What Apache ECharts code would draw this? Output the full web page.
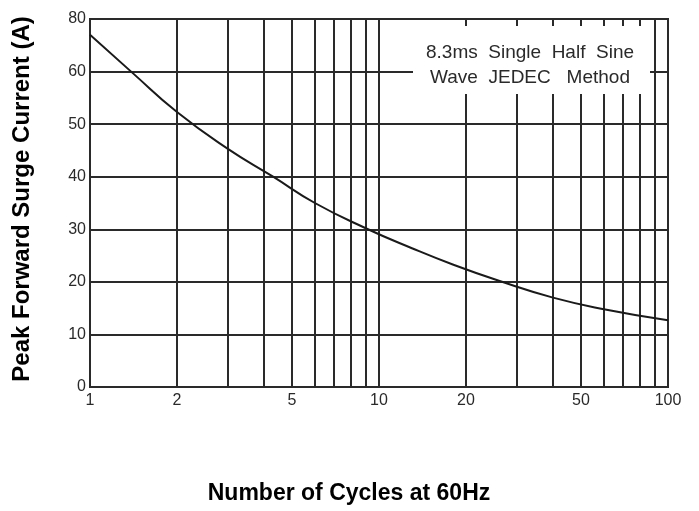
<!DOCTYPE html>
<html>
<head>
<meta charset="utf-8">
<script src="https://cdn.jsdelivr.net/npm/echarts@6/dist/echarts.min.js"></script>
<style>
  html, body { margin: 0; padding: 0; background: #fff; }
  #main { width: 699px; height: 511px; }
</style>
</head>
<body>
<div id="main"></div>
<script>
// 曲线数据（从图上读出来的）
var cycles = [1, 1.4, 2, 3, 4.3, 6, 9, 13, 18, 26, 40, 60, 100];
var current = [67, 59.8, 52.3, 45.3, 40, 35, 30.2, 26.4, 23.3, 20.2, 17, 14.8, 12.7];
// 网格竖线和刻度文字
var gridCycles = [1, 2, 3, 4, 5, 6, 7, 8, 9, 10, 20, 30, 40, 50, 60, 70, 80, 90, 100];
var labelCycles = [1, 2, 5, 10, 20, 50, 100];
// 注意原图最上面那格写的是80
var yTopLabel = '80';

var lg = function (v) { return Math.log10(v); };

var chart = echarts.init(document.getElementById('main'));
var option = {
  animation: false,
  grid: {
    left: 90, right: 31, top: 19, bottom: 124,
    show: true, borderColor: '#2a2a2a', borderWidth: 2
  },
  xAxis: {
    type: 'value',
    min: 0, max: 2,
    name: 'Number of Cycles at 60Hz',
    nameLocation: 'middle',
    nameGap: 95,
    nameTextStyle: {
      fontFamily: 'Arial, Liberation Sans', fontWeight: 'bold', fontSize: 23, color: '#000',
      padding: [0, 60, 0, 0]
    },
    axisLine: { lineStyle: { color: '#2a2a2a', width: 2 } },
    axisTick: { show: false, customValues: gridCycles.map(lg) },
    splitLine: { show: true, lineStyle: { color: '#2a2a2a', width: 2 } },
    axisLabel: {
      customValues: labelCycles.map(lg),
      margin: 6,
      fontFamily: 'Arial, Liberation Sans', fontSize: 16, color: '#2a2a2a',
      formatter: function (v) { return String(Math.round(Math.pow(10, v))); }
    }
  },
  yAxis: {
    type: 'value',
    min: 0, max: 70, interval: 10,
    name: 'Peak Forward Surge Current (A)',
    nameLocation: 'middle',
    nameGap: 56,
    nameTextStyle: {
      fontFamily: 'Arial, Liberation Sans', fontWeight: 'bold', fontSize: 24, color: '#000',
      padding: [0, 0, 0, 8]
    },
    axisLine: { show: true, lineStyle: { color: '#2a2a2a', width: 2 } },
    axisTick: { show: false },
    splitLine: { show: true, lineStyle: { color: '#2a2a2a', width: 2 } },
    axisLabel: {
      margin: 4,
      fontFamily: 'Arial, Liberation Sans', fontSize: 16, color: '#2a2a2a',
      formatter: function (v) { return v === 70 ? yTopLabel : String(v); }
    }
  },
  graphic: [
    { type: 'rect', z: 100, shape: { x: 413, y: 26, width: 237, height: 68 }, style: { fill: '#fff' } },
    {
      type: 'text', z: 101, x: 530, y: 65,
      style: {
        text: '8.3ms  Single  Half  Sine\nWave  JEDEC   Method',
        align: 'center', verticalAlign: 'middle',
        font: '19px Arial, "Liberation Sans"',
        lineHeight: 25, fill: '#2a2a2a'
      }
    }
  ],
  series: [{
    type: 'line',
    smooth: true,
    symbol: 'none',
    lineStyle: { color: '#1a1a1a', width: 2 },
    data: cycles.map(function (c, i) { return [lg(c), current[i]]; }),
    z: 10
  }]
};
chart.setOption(option);
</script>
</body>
</html>
